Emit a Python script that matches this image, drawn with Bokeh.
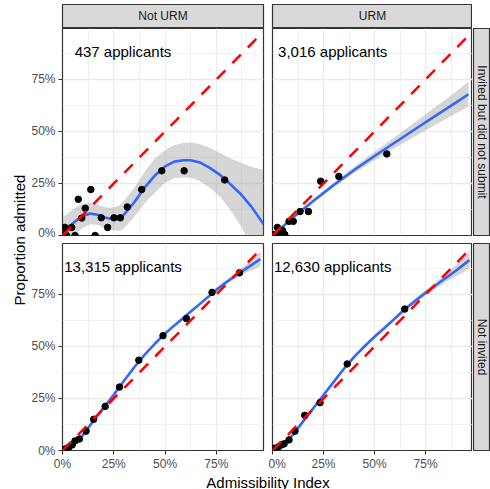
import math

from bokeh.embed import file_html
from bokeh.layouts import column, row
from bokeh.models import (FixedTicker, Grid, Label, LinearAxis, NumeralTickFormatter,
                          Range1d, Slope, Spacer)
from bokeh.plotting import figure
from bokeh.resources import INLINE

# ---------------------------------------------------------------- data
col_labels = ["Not URM", "URM"]
row_labels = ["Invited but did not submit", "Not invited"]
applicants = [[437, 3016], [13315, 12630]]

# Binned observations: admissibility index vs. share admitted
nu_inv_x = [0.003, 0.012, 0.02, 0.045, 0.061, 0.077, 0.094, 0.111, 0.138, 0.159,
            0.189, 0.220, 0.251, 0.282, 0.316, 0.386, 0.484, 0.593, 0.791]
nu_inv_y = [0.005, 0.039, 0.0, 0.039, 0.0, 0.174, 0.084, 0.131, 0.221, 0.0,
            0.085, 0.039, 0.085, 0.085, 0.137, 0.221, 0.311, 0.311, 0.267]

u_inv_x = [0.003, 0.015, 0.024, 0.035, 0.049, 0.06, 0.081, 0.102, 0.135, 0.176,
           0.236, 0.325, 0.56]
u_inv_y = [0.005, 0.002, 0.039, 0.01, 0.024, 0.005, 0.068, 0.068, 0.115, 0.115,
           0.261, 0.284, 0.392]

nu_not_x = [0.003, 0.015, 0.031, 0.047, 0.061, 0.082, 0.115, 0.152, 0.208, 0.278,
            0.372, 0.49, 0.604, 0.729, 0.863]
nu_not_y = [0.003, 0.008, 0.016, 0.027, 0.046, 0.055, 0.093, 0.15, 0.212, 0.305,
            0.434, 0.552, 0.634, 0.76, 0.854]

u_not_x = [0.003, 0.008, 0.02, 0.032, 0.045, 0.057, 0.081, 0.11, 0.158, 0.233,
           0.366, 0.648]
u_not_y = [0.002, 0.011, 0.012, 0.019, 0.028, 0.032, 0.051, 0.093, 0.169, 0.23,
           0.416, 0.68]

# Smoothed fits with the half-width of their confidence band
nu_inv_fit_x = [0.0, 0.05, 0.09, 0.135, 0.17, 0.2, 0.235, 0.27, 0.29, 0.315, 0.35, 0.4,
                0.45, 0.5, 0.545, 0.59, 0.625, 0.67, 0.72, 0.77, 0.82, 0.87, 0.92, 0.98]
nu_inv_fit_y = [0.01, 0.058, 0.09, 0.106, 0.1, 0.088, 0.08, 0.081, 0.09, 0.118, 0.16, 0.23,
                0.288, 0.332, 0.355, 0.362, 0.362, 0.351, 0.324, 0.29, 0.245, 0.198, 0.14, 0.055]
nu_inv_fit_se = [0.075, 0.067, 0.06, 0.052, 0.048, 0.05, 0.052, 0.059, 0.065, 0.067, 0.07, 0.075,
                 0.082, 0.078, 0.08, 0.083, 0.085, 0.089, 0.096, 0.105, 0.125, 0.152, 0.19, 0.26]

u_inv_fit_x = [0.0, 0.1, 0.2, 0.3, 0.4, 0.5, 0.6, 0.7, 0.8, 0.9, 0.96]
u_inv_fit_y = [0.0, 0.086, 0.166, 0.243, 0.315, 0.382, 0.447, 0.512, 0.576, 0.64, 0.679]
u_inv_fit_se = [0.006, 0.008, 0.009, 0.011, 0.015, 0.02, 0.027, 0.035, 0.043, 0.052, 0.06]

nu_not_fit_x = [0.0, 0.05, 0.1, 0.15, 0.2, 0.25, 0.3, 0.35, 0.4, 0.45, 0.5, 0.55,
                0.6, 0.65, 0.7, 0.75, 0.8, 0.85, 0.9, 0.965]
nu_not_fit_y = [0.0, 0.035, 0.075, 0.142, 0.205, 0.268, 0.335, 0.40, 0.46, 0.513, 0.562, 0.605,
                0.647, 0.688, 0.73, 0.772, 0.81, 0.845, 0.878, 0.92]
nu_not_fit_se = [0.006, 0.005, 0.005, 0.005, 0.005, 0.005, 0.005, 0.005, 0.005, 0.005, 0.006,
                 0.006, 0.007, 0.007, 0.008, 0.009, 0.011, 0.015, 0.021, 0.035]

u_not_fit_x = [0.0, 0.05, 0.1, 0.15, 0.2, 0.25, 0.3, 0.35, 0.4, 0.45, 0.5, 0.55,
               0.6, 0.65, 0.7, 0.75, 0.8, 0.85, 0.9, 0.965]
u_not_fit_y = [0.0, 0.03, 0.075, 0.14, 0.203, 0.267, 0.33, 0.393, 0.45, 0.50, 0.547, 0.59,
               0.635, 0.68, 0.72, 0.758, 0.794, 0.83, 0.865, 0.915]
u_not_fit_se = [0.006, 0.005, 0.005, 0.005, 0.005, 0.006, 0.006, 0.006, 0.007, 0.007, 0.008,
                0.008, 0.009, 0.01, 0.011, 0.013, 0.016, 0.02, 0.027, 0.043]

tick_values = [0.0, 0.25, 0.5, 0.75]
minor_values = [0.125, 0.375, 0.625, 0.875]

# ---------------------------------------------------------------- style
FONT = "Liberation Sans"
X_MAX = 0.98
Y_MAX = 0.995
BORDER = "#333333"
BOTTOM_AXIS_ROOM = 21
X_TITLE_H = 18


def blank(fig):
    fig.center = [r for r in fig.center if not isinstance(r, Grid)]
    fig.outline_line_color = None
    fig.background_fill_color = "white"
    fig.border_fill_color = "white"


def style_axis(ax):
    ax.axis_line_color = None
    ax.major_tick_line_color = BORDER
    ax.major_tick_line_width = 1.1
    ax.major_tick_out = 4
    ax.major_tick_in = 0
    ax.minor_tick_line_color = None
    ax.major_label_text_font = FONT
    ax.major_label_text_font_size = "12px"
    ax.major_label_text_color = "#4D4D4D"
    ax.major_label_standoff = 2


def make_panel(px, py, fx, fy, fse, n, first_col, first_row):
    p = figure(frame_width=201 if first_col else 200, frame_height=207,
               min_border_left=34 if first_col else 4,
               min_border_right=5 if first_col else 0,
               min_border_top=0 if first_row else 4,
               min_border_bottom=4 if first_row else BOTTOM_AXIS_ROOM,
               x_range=Range1d(0, X_MAX), y_range=Range1d(0, Y_MAX),
               x_axis_location=None, y_axis_location=None,
               output_backend="svg", toolbar_location=None, title=None)
    blank(p)
    p.outline_line_color = BORDER
    p.outline_line_width = 1.2

    for dim in (0, 1):
        p.add_layout(Grid(dimension=dim,
                          ticker=FixedTicker(ticks=tick_values, minor_ticks=minor_values),
                          grid_line_color="#EBEBEB", grid_line_width=1.3,
                          minor_grid_line_color="#EBEBEB", minor_grid_line_width=0.7))

    if first_col:
        ax = LinearAxis(ticker=FixedTicker(ticks=tick_values),
                        formatter=NumeralTickFormatter(format="0%"))
        style_axis(ax)
        ax.major_label_standoff = 3
        p.add_layout(ax, "left")
    if not first_row:
        ax = LinearAxis(ticker=FixedTicker(ticks=tick_values),
                        formatter=NumeralTickFormatter(format="0%"))
        style_axis(ax)
        p.add_layout(ax, "below")

    lo = [y - s for y, s in zip(fy, fse)]
    hi = [y + s for y, s in zip(fy, fse)]
    p.varea(x=fx, y1=lo, y2=hi, fill_color="#999999", fill_alpha=0.4)
    p.line(x=fx, y=fy, line_color="#3366FF", line_width=2.6)
    p.scatter(x=px, y=py, size=6.5, fill_color="black", line_color="black")
    p.add_layout(Slope(gradient=1, y_intercept=0, line_color="red",
                       line_width=2.5, line_dash="12 10"))

    p.add_layout(Label(x=0.295, y=0.886, text=f"{n:,} applicants",
                       text_align="center", text_baseline="middle",
                       text_font=FONT, text_font_size="15px", text_color="black"))
    return p


def make_strip(text, frame_w, frame_h, angle, **borders):
    s = figure(frame_width=frame_w, frame_height=frame_h,
               x_range=Range1d(0, 1), y_range=Range1d(0, 1),
               x_axis_location=None, y_axis_location=None,
               output_backend="svg", toolbar_location=None, title=None, **borders)
    blank(s)
    s.background_fill_color = "#D9D9D9"
    s.outline_line_color = BORDER
    s.outline_line_width = 1.2
    s.add_layout(Label(x=0.5, y=0.5, text=text, angle=angle,
                       text_align="center", text_baseline="middle",
                       text_font=FONT, text_font_size="12px", text_color="#1A1A1A"))
    return s


def make_title(text, w, h, cx, cy, angle):
    t = figure(frame_width=w, frame_height=h, x_range=Range1d(0, w), y_range=Range1d(0, h),
               x_axis_location=None, y_axis_location=None,
               min_border_left=0, min_border_right=0, min_border_top=0, min_border_bottom=0,
               output_backend="svg", toolbar_location=None, title=None)
    blank(t)
    t.add_layout(Label(x=cx, y=cy, text=text, angle=angle,
                       text_align="center", text_baseline="middle",
                       text_font=FONT, text_font_size="15px", text_color="black"))
    return t


# ---------------------------------------------------------------- panels
series = [
    [(nu_inv_x, nu_inv_y, nu_inv_fit_x, nu_inv_fit_y, nu_inv_fit_se),
     (u_inv_x, u_inv_y, u_inv_fit_x, u_inv_fit_y, u_inv_fit_se)],
    [(nu_not_x, nu_not_y, nu_not_fit_x, nu_not_fit_y, nu_not_fit_se),
     (u_not_x, u_not_y, u_not_fit_x, u_not_fit_y, u_not_fit_se)],
]

panels = [[make_panel(*series[r][c], applicants[r][c], c == 0, r == 0) for c in range(2)]
          for r in range(2)]

top_strips = [
    make_strip(col_labels[0], 201, 23, 0, min_border_left=34, min_border_right=5,
               min_border_top=4, min_border_bottom=1),
    make_strip(col_labels[1], 200, 23, 0, min_border_left=4, min_border_right=0,
               min_border_top=4, min_border_bottom=1),
]
side_strips = [
    make_strip(row_labels[0], 17, 207, -math.pi / 2, min_border_left=1, min_border_right=0,
               min_border_top=0, min_border_bottom=4),
    make_strip(row_labels[1], 17, 207, -math.pi / 2, min_border_left=1, min_border_right=0,
               min_border_top=4, min_border_bottom=BOTTOM_AXIS_ROOM),
]

y_title = make_title("Proportion admitted", 28, 489, 19, 249.5, math.pi / 2)
x_title = make_title("Admissibility Index", 462, X_TITLE_H, 239.5, 9.5, 0)

main = column(
    row(top_strips[0], top_strips[1], Spacer(width=18, height=28)),
    row(panels[0][0], panels[0][1], side_strips[0]),
    row(panels[1][0], panels[1][1], side_strips[1]),
    x_title,
)
page = row(y_title, main)

open("out.html", "w").write(file_html(page, INLINE))
